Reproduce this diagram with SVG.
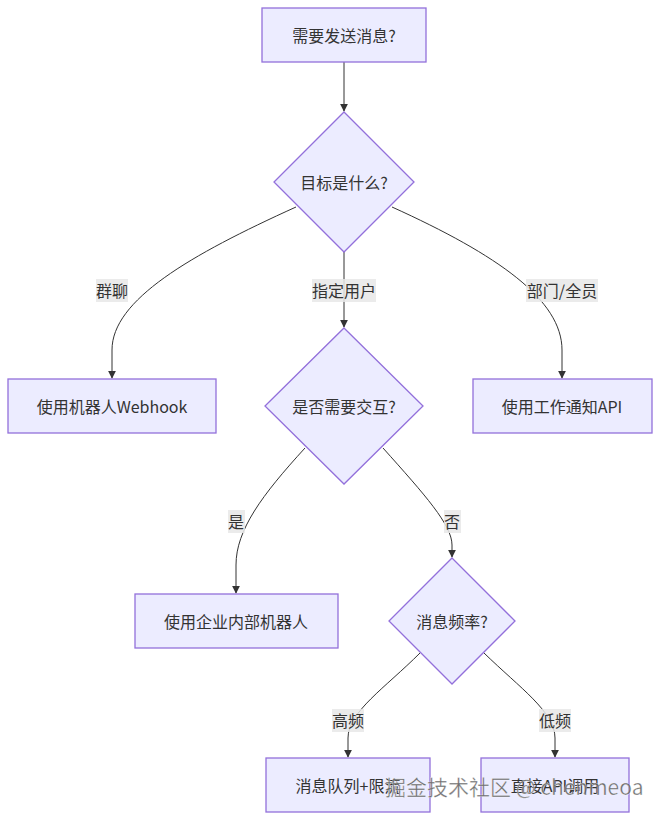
<svg xmlns="http://www.w3.org/2000/svg" width="660" height="820" viewBox="0 0 660 820">
<defs>
<marker id="arrow" viewBox="0 0 10 10" refX="9" refY="5" markerWidth="8" markerHeight="8" markerUnits="userSpaceOnUse" orient="auto">
<path d="M0,0 L10,5 L0,10 z" fill="#333333"/>
</marker>
<style>
.node rect, .node polygon { fill: #ECECFF; stroke: #9370DB; stroke-width: 1.3; }
.node text { font-family: "Noto Sans CJK SC", "Noto Sans", sans-serif; font-size: 16px; fill: #333333; text-anchor: middle; dominant-baseline: central; }
.edges path { fill: none; stroke: #333333; stroke-width: 1; }
.lbl rect { fill: #e8e8e8; opacity: 0.85; }
.lbl text { font-family: "Noto Sans CJK SC", "Noto Sans", sans-serif; font-size: 16px; fill: #333333; text-anchor: middle; dominant-baseline: central; }
.wm { font-family: "Noto Sans CJK SC", "Liberation Sans", sans-serif; font-size: 21px; fill: #555555; fill-opacity: 0.85; stroke: #ffffff; stroke-width: 0.6; stroke-opacity: 0.6; }
</style>
</defs>
<rect width="660" height="820" fill="#ffffff"/>
<g class="edges">
<path d="M344,62 L344,111" marker-end="url(#arrow)"/>
<path d="M296,207 C190,255 112,300 112,350 L112,378" marker-end="url(#arrow)"/>
<path d="M344,252 L344,327" marker-end="url(#arrow)"/>
<path d="M392,207 C498,255 562,300 562,350 L562,378" marker-end="url(#arrow)"/>
<path d="M305,448 C262,495 236,530 236,565 L236,593" marker-end="url(#arrow)"/>
<path d="M383,448 C425,495 452,525 452,545 L452,557" marker-end="url(#arrow)"/>
<path d="M420,653 C385,688 348,712 348,738 L348,757" marker-end="url(#arrow)"/>
<path d="M484,653 C520,688 555,712 555,738 L555,757" marker-end="url(#arrow)"/>
</g>
<g class="lbl">
<rect x="96" y="279" width="32" height="23"/><text x="112" y="290">群聊</text>
<rect x="312" y="279" width="64" height="23"/><text x="344" y="290">指定用户</text>
<rect x="526" y="279" width="72" height="23"/><text x="562" y="290">部门/全员</text>
<rect x="228" y="510" width="17" height="23"/><text x="236" y="521">是</text>
<rect x="444" y="510" width="17" height="23"/><text x="452" y="521">否</text>
<rect x="332" y="709" width="32" height="23"/><text x="348" y="720">高频</text>
<rect x="539" y="709" width="32" height="23"/><text x="555" y="720">低频</text>
</g>
<g id="A" class="node"><rect x="262" y="8" width="164" height="54"/><text x="344" y="35">需要发送消息?</text></g>
<g id="B" class="node"><polygon points="344,112 414,182 344,252 274,182"/><text x="344" y="182">目标是什么?</text></g>
<g id="C" class="node"><rect x="8" y="379" width="208" height="54"/><text x="112" y="406">使用机器人Webhook</text></g>
<g id="D" class="node"><polygon points="344,328 423,406 344,484 265,406"/><text x="344" y="406">是否需要交互?</text></g>
<g id="E" class="node"><rect x="473" y="379" width="179" height="54"/><text x="562" y="406">使用工作通知API</text></g>
<g id="F" class="node"><rect x="135" y="594" width="203" height="54"/><text x="236" y="621">使用企业内部机器人</text></g>
<g id="G" class="node"><polygon points="452,558 515,621 452,684 389,621"/><text x="452" y="621">消息频率?</text></g>
<g id="H" class="node"><rect x="266" y="758" width="164" height="54"/><text x="348" y="785">消息队列+限流</text></g>
<g id="I" class="node"><rect x="481" y="758" width="148" height="54"/><text x="555" y="785">直接API调用</text></g>
<text class="wm" x="385" y="795">掘金技术社区 @ chenmeoa</text>
</svg>
